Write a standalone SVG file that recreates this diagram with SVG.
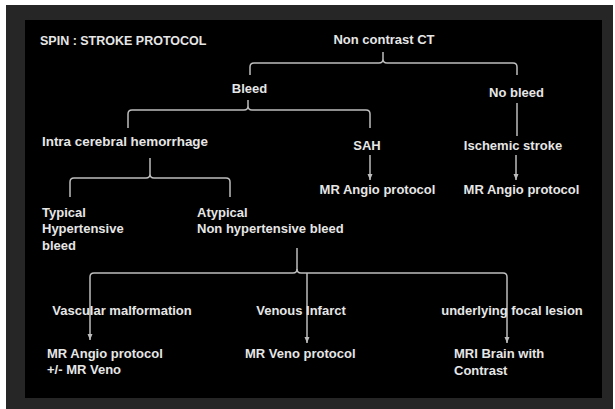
<svg xmlns="http://www.w3.org/2000/svg" width="615" height="409" viewBox="0 0 615 409">
<defs>
<style>
text{font-family:"Liberation Sans",Arial,sans-serif;font-size:13px;font-weight:bold;fill:#e6e6e6}
.m{text-anchor:middle}
.c{fill:none;stroke:#bdbdbd;stroke-width:1.5}
</style>
<marker id="ah" viewBox="0 0 8 8" refX="4" refY="7" markerWidth="6" markerHeight="6" orient="auto-start-reverse" markerUnits="userSpaceOnUse">
<path d="M1,0 L4,7 L7,0 Z" fill="#bdbdbd" transform="rotate(-90 4 4)"/>
</marker>
<marker id="arr" viewBox="0 0 6 8" refX="3" refY="8" markerWidth="6" markerHeight="8" orient="0" markerUnits="userSpaceOnUse">
<path d="M0.5,2 L3,8 L5.5,2 Z" fill="#bdbdbd"/>
</marker>
</defs>
<rect x="0" y="0" width="615" height="409" fill="#ffffff"/>
<rect x="6" y="5" width="607" height="404" fill="#262626"/>
<rect x="25" y="20" width="577" height="378" fill="#000000"/>
<text x="40" y="45" style="font-size:12.5px">SPIN : STROKE PROTOCOL</text>
<g id="connectors">
<path class="c" d="M250,75 V67 Q250,63 254,63 H379 Q383,63 383,59 V52 M383,59 Q383,63 387,63 H513 Q517,63 517,67 V75"/>
<path class="c" d="M128,128 V114 Q128,110 132,110 H244 Q248,110 248,106 V100 M248,106 Q248,110 252,110 H366 Q370,110 370,114 V128"/>
<path class="c" d="M517,103 V136"/>
<path class="c" d="M370,155 V180" marker-end="url(#arr)"/>
<path class="c" d="M516,155 V180" marker-end="url(#arr)"/>
<path class="c" d="M70,197 V182 Q70,178 74,178 H146 Q150,178 150,174 V158 M150,174 Q150,178 154,178 H226 Q230,178 230,182 V197"/>
<path class="c" d="M297,248 V269 Q297,273 293,273 H94 Q90,273 90,277 V340" marker-end="url(#arr)"/>
<path class="c" d="M297,269 Q297,273 301,273 H503 Q507,273 507,277 V343" marker-end="url(#arr)"/>
<path class="c" d="M307,273 V343" marker-end="url(#arr)"/>
</g>
<g id="n-ct"><text class="m" x="384" y="44">Non contrast CT</text></g>
<g id="n-bleed"><text class="m" x="249.5" y="93">Bleed</text></g>
<g id="n-nobleed"><text class="m" x="516.5" y="97">No bleed</text></g>
<g id="n-ich"><text x="42" y="146" textLength="166" lengthAdjust="spacingAndGlyphs">Intra cerebral hemorrhage</text></g>
<g id="n-sah"><text class="m" x="367" y="150">SAH</text></g>
<g id="n-isch"><text class="m" x="513" y="150">Ischemic stroke</text></g>
<g id="n-mra1"><text class="m" x="377.5" y="194">MR Angio protocol</text></g>
<g id="n-mra2"><text class="m" x="521.5" y="194">MR Angio protocol</text></g>
<g id="n-typ"><text x="42" y="217">Typical</text><text x="42" y="233">Hypertensive</text><text x="42" y="250">bleed</text></g>
<g id="n-atyp"><text x="197" y="217">Atypical</text><text x="197" y="233">Non hypertensive bleed</text></g>
<g id="n-vasc"><text class="m" x="122" y="315">Vascular malformation</text></g>
<g id="n-ven"><text class="m" x="301" y="315">Venous Infarct</text></g>
<g id="n-focal"><text class="m" x="512" y="315">underlying focal lesion</text></g>
<g id="n-mra3"><text x="47" y="358">MR Angio protocol</text><text x="47" y="374">+/- MR Veno</text></g>
<g id="n-mrv"><text x="245" y="358">MR Veno protocol</text></g>
<g id="n-mri"><text x="454" y="358">MRI Brain with</text><text x="454" y="375">Contrast</text></g>
</svg>
